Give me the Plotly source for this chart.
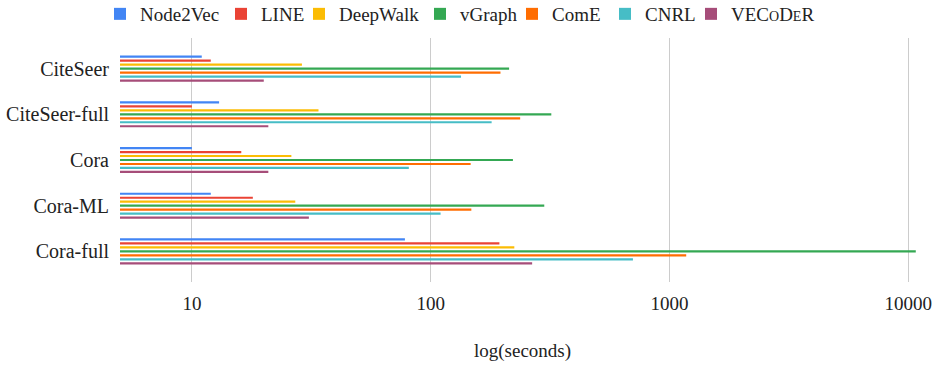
import plotly.graph_objects as go

categories = ["CiteSeer", "CiteSeer-full", "Cora", "Cora-ML", "Cora-full"]

node2vec = [11.0, 13.0, 10.0, 12.0, 78]
line_ = [12.0, 10.0, 16.1, 18.0, 194]
deepwalk = [28.9, 33.9, 26.1, 27.1, 224]
vgraph = [213, 320, 221, 299, 10750]
come = [196, 237, 147, 148, 1175]
cnrl = [134, 180, 81, 110, 703]
vecoder = [20.0, 20.9, 20.9, 30.9, 266]

series_names = ["Node2Vec", "LINE", "DeepWalk", "vGraph", "ComE", "CNRL",
                "VEC<span style='font-size:14px'>O</span>D<span style='font-size:14px'>E</span>R"]
series_values = [node2vec, line_, deepwalk, vgraph, come, cnrl, vecoder]
colors = ["#4285F4", "#EA4335", "#FBBC04", "#34A853", "#FF6D01", "#46BDC6", "#A64D79"]

tick_vals = [10, 100, 1000, 10000]
tick_text = ["10", "100", "1000", "10000"]

# legend symbol centre positions (px, layout only)
legend_x_px = [122, 243, 321, 442, 534, 627, 713]
LEG_OFFSET = 22

FONT = "Liberation Serif, Times New Roman, serif"
FS = 19
W, H = 933, 366

fig = go.Figure()
legend_layouts = {}
for i, (name, vals, col) in enumerate(zip(series_names, series_values, colors)):
    lname = "legend" if i == 0 else f"legend{i+1}"
    fig.add_trace(go.Bar(
        y=categories, x=vals, name=name, orientation="h",
        marker=dict(color=col, line=dict(width=0)),
        legend=lname,
    ))
    legend_layouts[lname] = dict(
        orientation="h", xref="container", yref="container",
        x=(legend_x_px[i] - LEG_OFFSET) / W, xanchor="left",
        y=1 - 14 / H, yanchor="middle",
        font=dict(size=FS, color="#222222", family=FONT),
        itemwidth=30, bgcolor="rgba(0,0,0,0)",
    )

fig.update_layout(
    width=W, height=H,
    margin=dict(l=120, r=8, t=38, b=84, autoexpand=False),
    paper_bgcolor="white", plot_bgcolor="white",
    barmode="group", bargap=0.39, bargroupgap=0.45,
    font=dict(family=FONT, size=FS, color="#222222"),
    showlegend=True,
    xaxis=dict(type="log", range=[0.699, 4.07], tickvals=tick_vals, ticktext=tick_text,
               showgrid=True, gridcolor="#CCCCCC", gridwidth=1, zeroline=False,
               showline=False, ticks="", ticklabelstandoff=8, automargin=False,
               title=dict(text="log(seconds)", standoff=30, font=dict(size=FS))),
    yaxis=dict(type="category", categoryorder="array", categoryarray=categories,
               range=[4.67, -0.67], showgrid=False, zeroline=False, showline=False,
               ticks="", ticklabelstandoff=10, automargin=False,
               tickfont=dict(size=20)),
    **legend_layouts,
)

fig.write_html("out.html", config={"displayModeBar": False},
               post_script="document.body.style.margin='0';")
